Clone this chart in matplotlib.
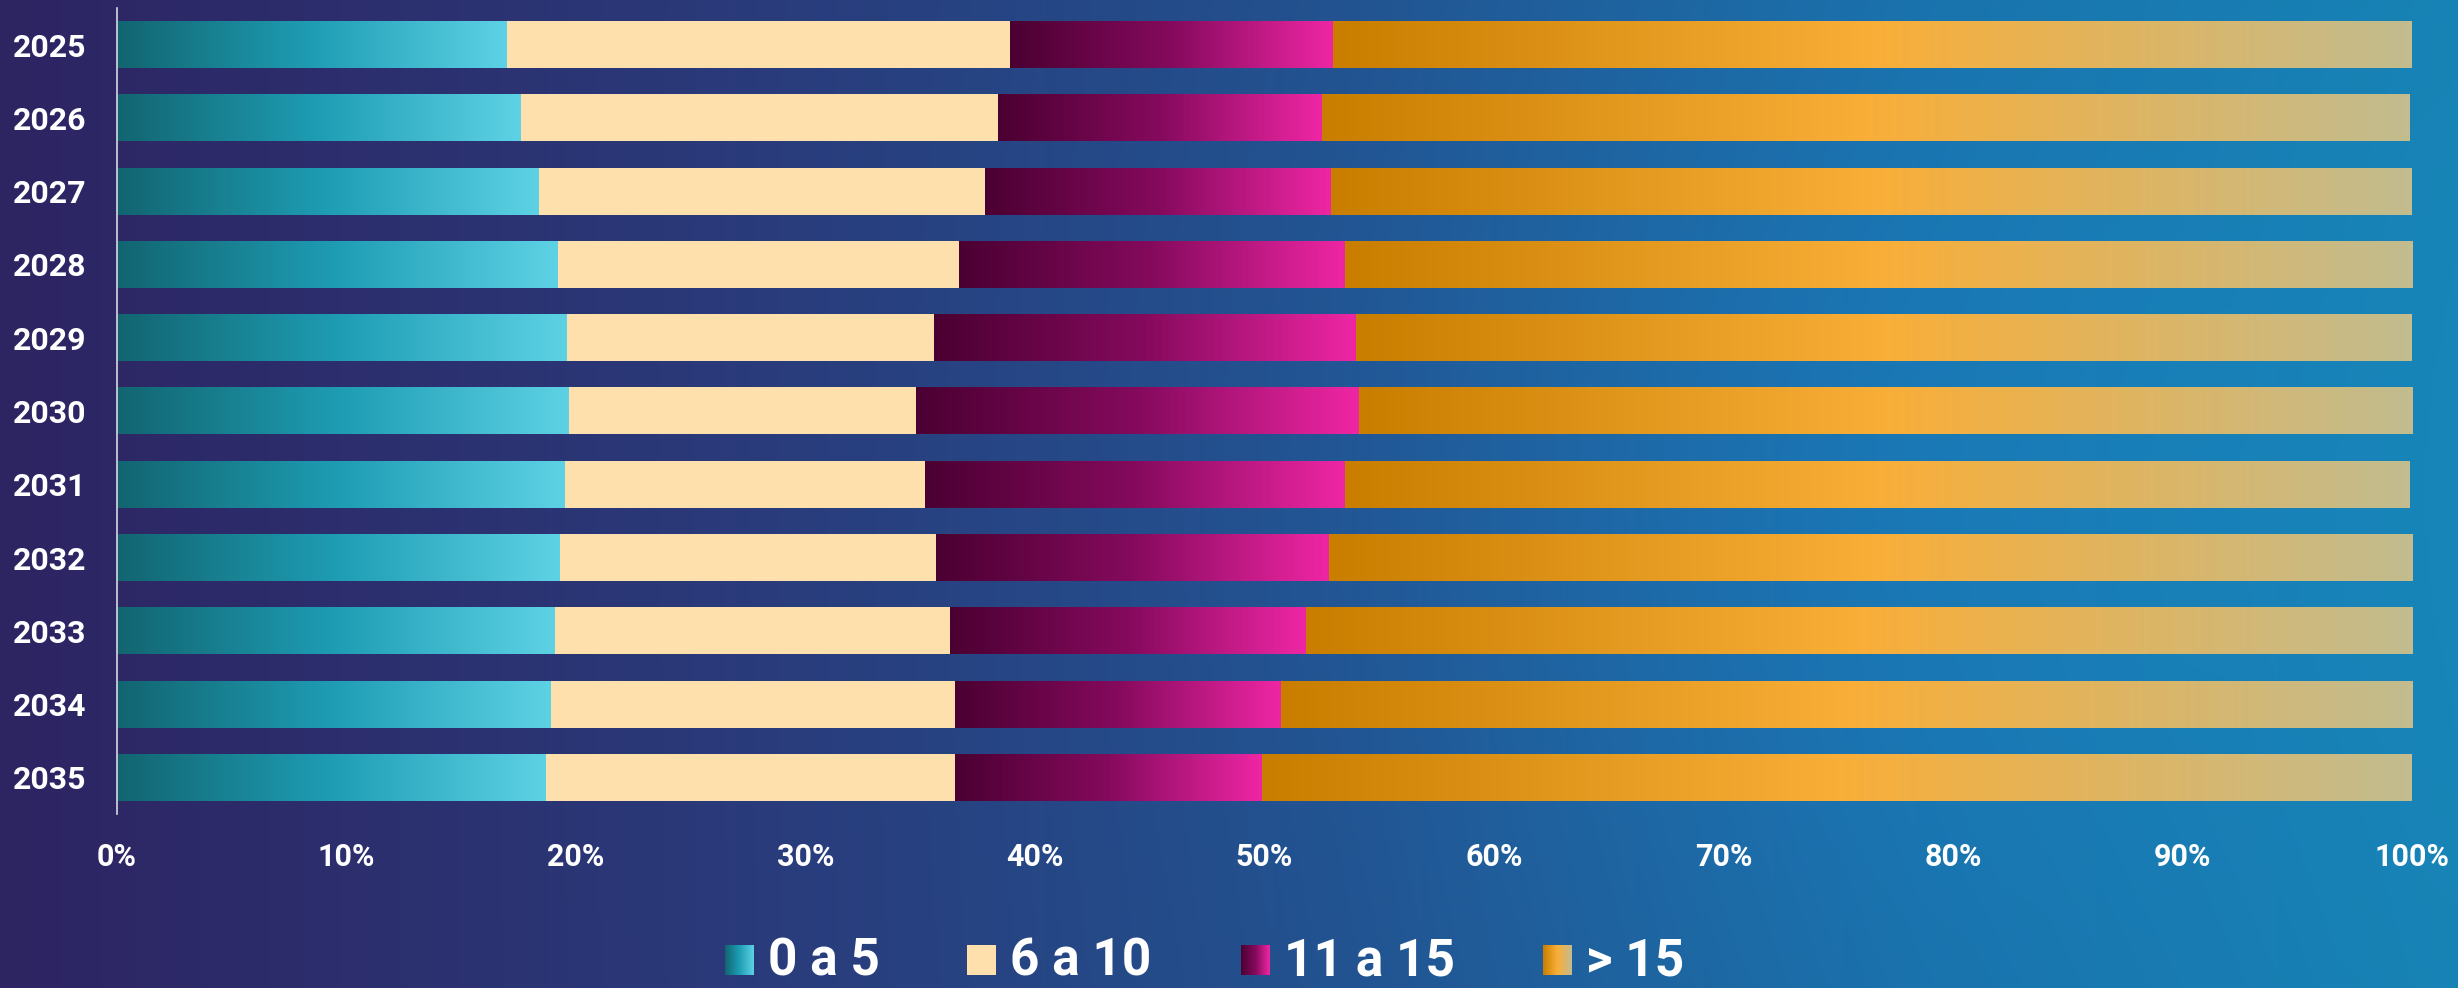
import numpy as np
import matplotlib.pyplot as plt
from matplotlib.colors import LinearSegmentedColormap, to_rgb

plt.rcParams['font.family'] = ['Roboto', 'DejaVu Sans']
plt.rcParams['font.weight'] = 'bold'

years = ['2025', '2026', '2027', '2028', '2029', '2030', '2031', '2032', '2033', '2034', '2035']
share_0_5 = [17.0, 17.6, 18.4, 19.2, 19.6, 19.7, 19.5, 19.3, 19.1, 18.9, 18.7]
share_6_10 = [21.9, 20.8, 19.4, 17.5, 16.0, 15.1, 15.7, 16.4, 17.2, 17.6, 17.8]
share_11_15 = [14.1, 14.1, 15.1, 16.8, 18.4, 19.3, 18.3, 17.1, 15.5, 14.2, 13.4]
share_15_plus = [47.0, 47.4, 47.1, 46.5, 46.0, 45.9, 46.4, 47.2, 48.2, 49.3, 50.1]
labels = ['0 a 5', '6 a 10', '11 a 15', '> 15']

# gradient for each segment (left -> right)
cmaps = [
    LinearSegmentedColormap.from_list('teal', ['#126570', '#1e9db4', '#5ed2e5']),
    LinearSegmentedColormap.from_list('peach', ['#fee0ad', '#fee0ad']),
    LinearSegmentedColormap.from_list('pink', ['#4b0032', '#850a5d', '#ef26a4']),
    LinearSegmentedColormap.from_list('orange', ['#c97e00', '#f9ae38', '#c2bc8f']),
]
grad = np.linspace(0, 1, 256).reshape(1, -1)

W, H = 2458, 988
fig = plt.figure(figsize=(W / 100, H / 100), dpi=100)

# background: purple -> blue -> teal with a soft glow
bg = fig.add_axes([0, 0, 1, 1], zorder=-1)
bg.axis('off')
xs = np.linspace(0, 1, 600)
ys = np.linspace(0, 1, 240)
stops = [0.0, 0.3, 0.55, 0.78, 1.0]
cols = np.array([to_rgb(c) for c in ['#2e2462', '#2a3a7a', '#22508c', '#1a6ca4', '#1781b2']])
row = np.stack([np.interp(xs, stops, cols[:, k]) for k in range(3)], axis=-1)
img = np.repeat(row[None, :, :], len(ys), axis=0)
X, Y = np.meshgrid(xs, ys)
glow = np.exp(-(((X - 0.75) / 0.25) ** 2 + ((Y - 0.5) / 0.6) ** 2))
img = img + glow[..., None] * np.array([0.0, 0.05, 0.07])
bg.imshow(np.clip(img, 0, 1), extent=[0, 1, 0, 1], aspect='auto', origin='upper')
bg.set_xlim(0, 1)
bg.set_ylim(0, 1)

ax = fig.add_axes([117 / W, 1 - 814 / H, (2412 - 117) / W, (814 - 8) / H])
ax.set_facecolor('none')

y = np.arange(len(years))
series = [share_0_5, share_6_10, share_11_15, share_15_plus]
left = np.zeros(len(years))
for vals, cmap in zip(series, cmaps):
    bars = ax.barh(y, vals, left=left, height=0.64, color='none', linewidth=0)
    for b in bars:
        x0, y0 = b.get_x(), b.get_y()
        ax.imshow(grad, cmap=cmap, extent=[x0, x0 + b.get_width(), y0, y0 + b.get_height()],
                  aspect='auto', interpolation='bilinear', zorder=2)
    left += np.array(vals)

ax.set_xlim(0, 100)
ax.set_ylim(10.5, -0.5)
ax.set_yticks(y)
ax.set_yticklabels(years)
ax.set_xticks(np.arange(0, 101, 10))
ax.set_xticklabels([f'{t}%' for t in range(0, 101, 10)])
ax.tick_params(axis='x', length=0, pad=20, labelsize=22, labelcolor='white')
ax.tick_params(axis='y', length=0, pad=22, labelsize=23, labelcolor='white')
for s in ['top', 'right', 'bottom']:
    ax.spines[s].set_visible(False)
ax.spines['left'].set_color('#d8d8e0')
ax.spines['left'].set_linewidth(1.2)

# legend with gradient swatches
base = 975
patch_x = [725, 967, 1241, 1543]
for px, lab, cmap in zip(patch_x, labels, cmaps):
    lax = fig.add_axes([px / W, 1 - base / H, 29 / W, 30 / H])
    lax.imshow(grad, cmap=cmap, aspect='auto', interpolation='bilinear')
    lax.axis('off')
    fig.text((px + 43) / W, 1 - base / H, lab, color='white', fontsize=37,
             fontweight='bold', va='baseline', ha='left')

fig.savefig('out.png', dpi=100)
